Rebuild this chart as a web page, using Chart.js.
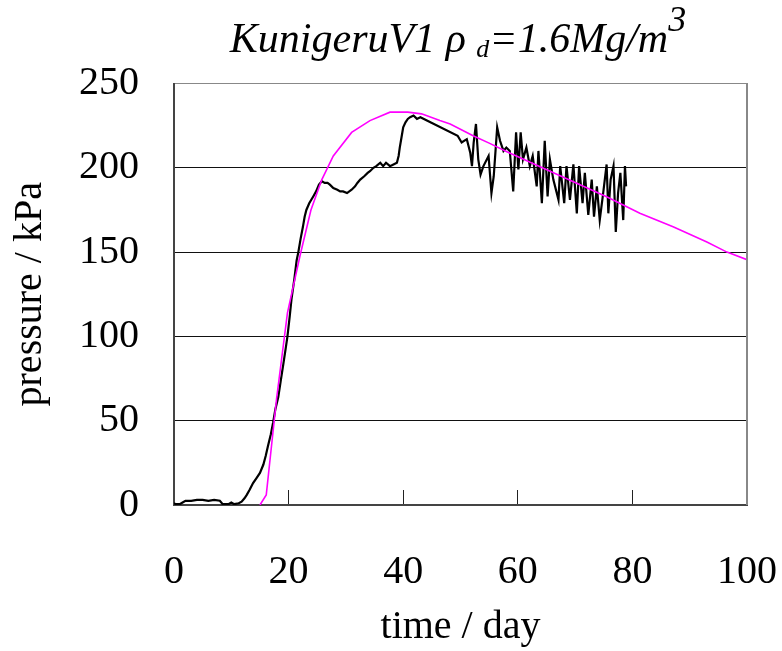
<!DOCTYPE html>
<html>
<head>
<meta charset="utf-8">
<script src="https://cdn.jsdelivr.net/npm/chart.js@4.4.1/dist/chart.umd.min.js"></script>
<style>
  html, body { margin: 0; padding: 0; background: #fff; }
  #wrap { position: relative; width: 782px; height: 651px; overflow: hidden; }
  #c { position: absolute; left: 0; top: 0; }
  #title {
    position: absolute; left: 458px; top: 17px; transform: translateX(-50%);
    white-space: nowrap; font-family: "Liberation Serif", "Times New Roman", serif;
    font-style: italic; font-size: 42px; line-height: 1; color: #000;
  }
  #title sub { font-size: 26px; line-height: 0; vertical-align: -5px; }
  #title sup { font-size: 36px; line-height: 0; vertical-align: 21px; }
</style>
</head>
<body>
<div id="wrap">
  <canvas id="c" width="782" height="651"></canvas>
  <div id="title">KunigeruV1 ρ <sub>d</sub>=1.6Mg/m<sup>3</sup></div>
</div>
<script>
// ---- data ----
const measuredDays = [
  0, 0.3, 1, 1.5, 2, 3, 4, 5, 6, 7, 8, 8.5, 9.5, 10, 10.5, 11.3,
  11.8, 12.3, 12.7, 13.2, 13.8, 14.4, 15.0, 15.6, 16.0, 16.4, 16.9, 17.3, 17.7, 18.2, 18.6, 19.1, 19.5, 19.8,
  20.2, 20.5, 21.0, 21.4, 21.7, 22.1, 22.5, 22.8, 23.1, 23.6, 24.3, 24.8, 25.3, 25.8, 26.3, 26.8, 27.2, 27.8,
  28.5, 29.0, 29.5, 30.2, 31.0, 31.6, 32.0, 32.5, 33.2, 33.8, 34.2, 34.8, 35.3, 36.0, 36.5, 37.0, 37.7, 38.3,
  38.9, 39.2, 39.4, 39.7, 40.0, 40.4, 40.8, 41.2, 41.8, 42.4, 43.0,
  49.5, 50.2, 51.1, 51.7, 52.0, 52.3, 52.7, 53.1, 53.5, 54.0, 54.9, 55.4, 55.8, 56.4, 56.9, 57.5, 58.0, 58.6,
  59.2, 59.7, 60.1, 60.5, 60.9, 61.5, 62.1, 62.6, 63.3, 63.6, 64.2, 64.7, 65.2, 65.6, 66.2, 67.1, 67.4, 68.1,
  68.5, 69.1, 69.7, 70.3, 70.7, 71.3, 71.7, 72.3, 72.9, 73.3, 73.8, 74.3, 74.9, 75.5, 75.8, 76.2, 76.7, 77.1,
  77.5, 77.9, 78.4, 78.7, 78.9
];
const measuredPressure = [
  1, 0.5, 0.5, 1.5, 2.5, 2.5, 3, 3, 2.5, 3, 2.5, 0.5, 0.5, 1.5, 0.5, 1,
  2, 4, 6, 9, 13, 16, 19, 24, 29, 35, 42, 49, 57, 64, 73, 84, 93, 100,
  112, 122, 134, 145, 150, 158, 165, 171, 175, 179, 183, 186, 190, 192, 191, 191, 190, 188,
  187, 186, 186, 185, 187, 189, 191, 193, 195, 197, 198, 200, 201, 203, 201, 203, 201, 202,
  203, 207, 212, 218, 224, 227, 229, 230, 231, 229, 230,
  219, 215, 217, 209, 201, 215, 226, 205, 196, 201, 207, 185, 195, 224, 216, 210, 212, 210,
  186, 221, 199, 221, 205, 212, 201, 207, 189, 210, 179, 216, 183, 205, 193, 181, 201, 179,
  201, 181, 202, 173, 201, 179, 197, 172, 193, 171, 189, 169, 185, 202, 173, 193, 201, 162,
  185, 197, 169, 201, 189
];
const simDays = [15.0, 16.1, 17.9, 19.8, 22.0, 23.9, 25.8, 27.8, 31.0, 34.2, 37.7, 40.8, 43.2, 46.4, 48.2,
  52.2, 55.1, 58.1, 63.9, 69.7, 75.5, 81.3, 87.1, 93.0, 96.5, 100];
const simPressure = [0, 6, 63, 114, 148, 175, 193, 207, 221, 228, 233, 233, 232, 228, 226,
  219, 214.5, 209.5, 200.6, 191.7, 182.8, 173, 165, 156, 150, 145.5];
const xTickValues = [0, 20, 40, 60, 80, 100];
const yTickValues = [0, 50, 100, 150, 200, 250];

const toPoints = (xs, ys) => xs.map((x, i) => ({ x: x, y: ys[i] }));
const FONT = '"Liberation Serif", "Times New Roman", serif';

const frame = {
  id: 'frame',
  afterDatasetsDraw(chart) {
    const a = chart.chartArea, ctx = chart.ctx;
    ctx.save();
    ctx.strokeStyle = '#888';
    ctx.lineWidth = 2;
    ctx.beginPath();
    ctx.moveTo(a.right, a.top - 0.5);
    ctx.lineTo(a.right, a.bottom);
    ctx.stroke();
    ctx.restore();
  }
};

new Chart(document.getElementById('c'), {
  type: 'scatter',
  data: {
    datasets: [
      { data: toPoints(simDays, simPressure), showLine: true, borderColor: '#ff00ff',
        borderWidth: 1.6, pointRadius: 0, tension: 0, fill: false },
      { data: toPoints(measuredDays, measuredPressure), showLine: true, borderColor: '#000',
        borderWidth: 2.2, pointRadius: 0, tension: 0, fill: false }
    ]
  },
  options: {
    responsive: false,
    animation: false,
    devicePixelRatio: 1,
    layout: { padding: { top: 83.5, right: 35, left: 0, bottom: 0 } },
    plugins: { legend: { display: false }, tooltip: { enabled: false }, title: { display: false } },
    scales: {
      x: {
        type: 'linear', min: 0, max: 100,
        afterBuildTicks: s => { s.ticks = xTickValues.map(v => ({ value: v })); },
        afterFit: s => { s.height = 146; s.paddingLeft = 0; s.paddingRight = 0; },
        ticks: { font: { family: FONT, size: 40 }, color: '#000', padding: 58, maxRotation: 0, autoSkip: false },
        grid: { display: true, drawOnChartArea: false, drawTicks: true, tickLength: -15, tickColor: '#222', tickWidth: 1 },
        border: { display: true, color: '#444', width: 2 },
        title: { display: true, text: 'time / day', color: '#000', font: { family: FONT, size: 40 }, padding: { top: 0, bottom: 0 } }
      },
      y: {
        type: 'linear', min: 0, max: 250,
        afterBuildTicks: s => { s.ticks = yTickValues.map(v => ({ value: v })); },
        afterFit: s => { s.width = 174; s.paddingTop = 0; s.paddingBottom = 0; },
        ticks: { font: { family: FONT, size: 40 }, color: '#000', padding: 35 },
        grid: { display: true, drawTicks: false, lineWidth: 1,
          color: c => (c.tick && c.tick.value === 250) ? '#888' : '#111' },
        border: { display: true, color: '#444', width: 2 },
        title: { display: true, text: 'pressure / kPa', color: '#000', font: { family: FONT, size: 40 }, padding: { top: 6, bottom: 0 } }
      }
    }
  },
  plugins: [frame]
});
</script>
</body>
</html>
